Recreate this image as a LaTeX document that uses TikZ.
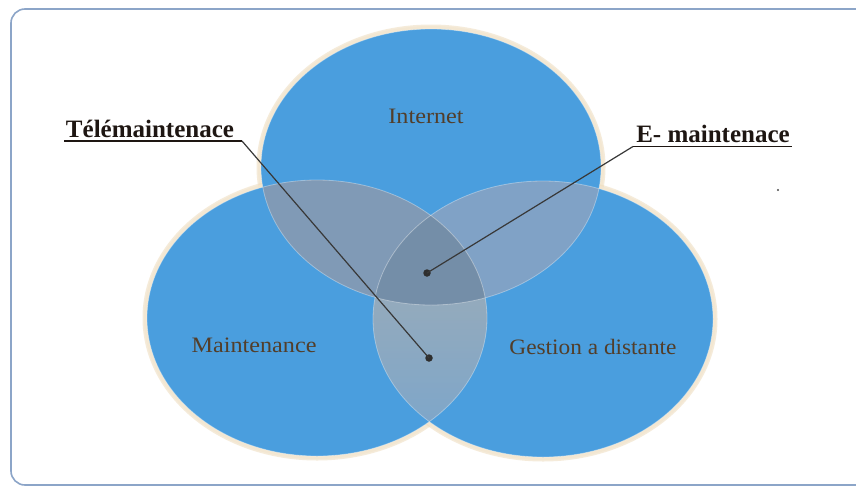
\documentclass[tikz,border=0pt]{standalone}
\usepackage{fontspec}
\setmainfont{Liberation Serif}
\usepackage{graphicx}
\definecolor{vennblue}{RGB}{74,158,222}
\definecolor{halocol}{RGB}{238,220,188}
\definecolor{mixMI}{RGB}{128,154,182}
\definecolor{mixGI}{RGB}{128,162,198}
\definecolor{mixMGtop}{RGB}{168,174,176}
\definecolor{mixMGbot}{RGB}{120,165,205}
\definecolor{mixAll}{RGB}{116,142,168}
\definecolor{framecol}{RGB}{140,165,200}
\definecolor{labelcol}{RGB}{82,62,42}
\definecolor{calloutcol}{RGB}{30,22,18}
\tikzset{
  halo/.style={draw=halocol, line width=9pt, draw opacity=0.55},
  halo2/.style={draw=halocol!70!white, line width=4pt, draw opacity=0.8},
  vennfill/.style={fill=vennblue},
  rimline/.style={draw=white, draw opacity=0.35, line width=0.8pt},
  lbl/.style={font=\fontsize{22}{24}\selectfont, text=labelcol, inner sep=0pt},
  callout/.style={font=\bfseries\fontsize{25}{28}\selectfont, text=calloutcol, inner sep=0pt, anchor=base},
  uline/.style={draw=calloutcol, line width=1.8pt},
  leader/.style={draw=black!78, line width=1.2pt},
  dotmark/.style={circle, fill=black!82, inner sep=0pt, minimum size=7.5pt},
}
\begin{document}
\begin{tikzpicture}[x=1pt,y=-1pt]
\useasboundingbox (0,0) rectangle (856,488);
\fill[white] (0,0) rectangle (856,488);
% frame
\draw[framecol, line width=1.6pt, rounded corners=14pt] (11,9) rectangle (890,485);
% halos
\foreach \cx/\cy in {431/167, 317/318, 543/319}{
  \draw[halo] (\cx,\cy) ellipse [x radius=170, y radius=138];
  \draw[halo2] (\cx,\cy) ellipse [x radius=171, y radius=139];
}
% blue fills
\foreach \cx/\cy in {431/167, 317/318, 543/319}{
  \fill[vennfill] (\cx,\cy) ellipse [x radius=170, y radius=138];
}
% M and I
\begin{scope}
  \clip (317,318) ellipse [x radius=170, y radius=138];
  \fill[mixMI] (431,167) ellipse [x radius=170, y radius=138];
\end{scope}
% G and I
\begin{scope}
  \clip (543,319) ellipse [x radius=170, y radius=138];
  \fill[mixGI] (431,167) ellipse [x radius=170, y radius=138];
\end{scope}
% M and G
\begin{scope}
  \clip (317,318) ellipse [x radius=170, y radius=138];
  \clip (543,319) ellipse [x radius=170, y radius=138];
  \shade[top color=mixMGtop, bottom color=mixMGbot] (360,180) rectangle (500,460);
  \clip (431,167) ellipse [x radius=170, y radius=138];
  \fill[mixAll] (360,180) rectangle (500,460);
\end{scope}
% rims
\foreach \cx/\cy in {431/167, 317/318, 543/319}{
  \draw[rimline] (\cx,\cy) ellipse [x radius=170, y radius=138];
}
% labels
\node[lbl] (inet) at (426,116) {\scalebox{1.1}[1]{Internet}};
\node[lbl] (maint) at (254,345) {\scalebox{1.1}[1]{Maintenance}};
\node[lbl] (gest) at (593,347) {\scalebox{1.06}[1]{Gestion a distante}};
% dots
\node[dotmark] (d1) at (427,273) {};
\node[dotmark] (d2) at (429,358) {};
% callouts
\node[callout] (tele) at (150,137.5) {Télémaintenace};
\node[callout] (emai) at (713,142) {E- maintenace};
\coordinate (teleL) at (64,141);
\coordinate (teleR) at (242,141);
\coordinate (emaiL) at (633,146.5);
\coordinate (emaiR) at (792,146.5);
\draw[uline] (teleL) -- (teleR);
\draw[uline] (emaiL) -- (emaiR);
\draw[leader] (teleR) -- (d2.center);
\draw[leader] (emaiL) -- (d1.center);
% stray speck
\fill[black!70] (778,190) circle (1.1);
\end{tikzpicture}
\end{document}
